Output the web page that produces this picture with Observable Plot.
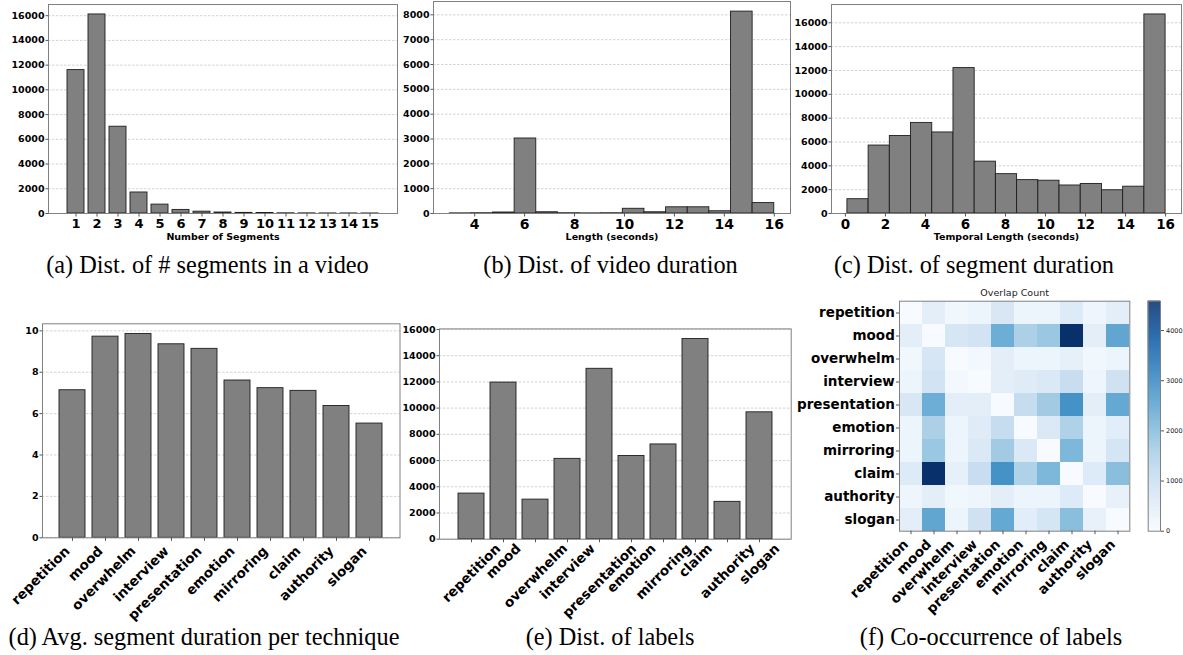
<!DOCTYPE html>
<html><head><meta charset="utf-8">
<script src="https://cdn.jsdelivr.net/npm/d3@7"></script>
<script src="https://cdn.jsdelivr.net/npm/@observablehq/plot@0.6"></script>
<style>
body{margin:0;background:#fff;}
#fig{position:relative;width:1183px;height:655px;overflow:hidden;font-family:"DejaVu Sans";}
.panel{position:absolute;}
.panel svg{overflow:visible;}
.cap{position:absolute;width:440px;text-align:center;font-family:"Liberation Serif";font-size:24.3px;line-height:24.3px;color:#000;white-space:nowrap;}
</style></head><body><div id="fig"></div>
<script>
// ---- data ----
const segCounts = [1,2,3,4,5,6,7,8,9,10,11,12,13,14,15];
const segValues = [11600,16100,7020,1700,720,290,150,80,50,40,15,10,5,5,3];
const segYTicks = [0,2000,4000,6000,8000,10000,12000,14000,16000];

const durEdges = [3,3.867,4.733,5.6,6.467,7.333,8.2,9.067,9.933,10.8,11.667,12.533,13.4,14.267,15.133,16];
const durValues = [5,10,40,3020,50,10,5,10,190,50,250,250,90,8130,420];
const durXTicks = [4,6,8,10,12,14,16];
const durYTicks = [0,1000,2000,3000,4000,5000,6000,7000,8000];

const segDurEdges = [0.1,1.16,2.22,3.28,4.34,5.4,6.46,7.52,8.58,9.64,10.7,11.76,12.82,13.88,14.94,16];
const segDurValues = [1200,5700,6500,7600,6800,12200,4350,3300,2800,2750,2350,2480,1950,2250,16700];
const segDurXTicks = [0,2,4,6,8,10,12,14,16];
const segDurYTicks = [0,2000,4000,6000,8000,10000,12000,14000,16000];

const techniques = ["repetition","mood","overwhelm","interview","presentation","emotion","mirroring","claim","authority","slogan"];
const avgDuration = [7.13,9.72,9.85,9.35,9.13,7.6,7.23,7.1,6.37,5.52];
const avgYTicks = [0,2,4,6,8,10];
const labelCounts = [3480,11950,3020,6130,13000,6350,7230,15270,2850,9680];
const labelYTicks = [0,2000,4000,6000,8000,10000,12000,14000,16000];

const overlap = [
  [0,450,150,250,700,250,250,600,200,450],
  [450,0,750,850,2300,1500,1750,4585,450,2450],
  [150,750,0,100,450,250,250,400,150,250],
  [250,850,100,0,450,550,650,1050,200,900],
  [700,2300,450,450,0,1100,1650,2850,450,2400],
  [250,1500,250,550,1100,0,650,1450,250,500],
  [250,1750,250,650,1650,650,0,2100,250,800],
  [600,4585,400,1050,2850,1450,2100,0,600,1950],
  [200,450,150,200,450,250,250,600,0,350],
  [450,2450,250,900,2400,500,800,1950,350,0]
];
const cbarTicks = [0,1000,2000,3000,4000];

const captions = [
  {t:"(a) Dist. of # segments in a video", cx:207.5, top:252.7},
  {t:"(b) Dist. of video duration", cx:610.5, top:252.7},
  {t:"(c) Dist. of segment duration", cx:974, top:252.7},
  {t:"(d) Avg. segment duration per technique", cx:204, top:624.7},
  {t:"(e) Dist. of labels", cx:610, top:624.7},
  {t:"(f) Co-occurrence of labels", cx:991, top:624.7}
];

// ---- styles ----
const FONT = "DejaVu Sans";
const gridOpts = {stroke:"#b5b5b5", strokeDasharray:"2.5,1.5", strokeWidth:0.6, strokeOpacity:1};
const barOpts = {fill:"#808080", stroke:"#1e1e1e", strokeWidth:0.9};
const frameOpts = {stroke:"#808080", strokeWidth:1};
const yAxisOpts = {tickSize:2.5, tickPadding:1.5, fontSize:9.5, fontWeight:"bold", label:null, tickFormat:d=>String(d), stroke:"#555", fill:"#000"};
const style = {fontFamily:FONT, overflow:"visible", background:"transparent", color:"#000"};

const fig = document.getElementById("fig");
function place(el, left, top) {
  const d = document.createElement("div");
  d.className = "panel"; d.style.left = left+"px"; d.style.top = top+"px";
  d.appendChild(el); fig.appendChild(d);
}
const ctx = document.createElement("canvas").getContext("2d");
function textWidth(s, font) { ctx.font = font; return ctx.measureText(s).width; }

// (a)
place(Plot.plot({
  width:400, height:250, marginLeft:48, marginRight:3, marginTop:4, marginBottom:37, style,
  x:{type:"band", domain:segCounts, paddingInner:0.2, paddingOuter:0.74},
  y:{domain:[0,16905]},
  marks:[
    Plot.gridY(segYTicks, gridOpts),
    Plot.barY(segCounts.map((n,i)=>({n, v:segValues[i]})), {x:"n", y:"v", ...barOpts}),
    Plot.frame(frameOpts),
    Plot.axisY({ticks:segYTicks, ...yAxisOpts}),
    Plot.axisX({tickSize:3.5, tickPadding:2, fontSize:13, fontWeight:"bold", label:null, stroke:"#555", fill:"#000"}),
    Plot.text(["Number of Segments"], {frameAnchor:"bottom", dy:23.7, lineAnchor:"middle", fontSize:9.5, fontWeight:"bold", fill:"#000"})
  ]
}), 0, 0);

// (b)
place(Plot.plot({
  width:400, height:250, marginLeft:40, marginRight:3, marginTop:1, marginBottom:37, style,
  x:{domain:[2.35,16.65]},
  y:{domain:[0,8537]},
  marks:[
    Plot.gridY(durYTicks, gridOpts),
    Plot.rectY(durValues.map((v,i)=>({a:durEdges[i], b:durEdges[i+1], v})), {x1:"a", x2:"b", y:"v", ...barOpts}),
    Plot.frame(frameOpts),
    Plot.axisY({ticks:durYTicks, ...yAxisOpts}),
    Plot.axisX({ticks:durXTicks, tickFormat:d=>String(d), tickSize:3.5, tickPadding:2, fontSize:14, fontWeight:"bold", label:null, stroke:"#555", fill:"#000"}),
    Plot.text(["Length (seconds)"], {frameAnchor:"bottom", dy:23.7, lineAnchor:"middle", fontSize:9.5, fontWeight:"bold", fill:"#000"})
  ]
}), 393, 0);

// (c)
place(Plot.plot({
  width:395, height:250, marginLeft:43, marginRight:2, marginTop:4, marginBottom:37, style,
  x:{domain:[-0.695,16.795]},
  y:{domain:[0,17535]},
  marks:[
    Plot.gridY(segDurYTicks, gridOpts),
    Plot.rectY(segDurValues.map((v,i)=>({a:segDurEdges[i], b:segDurEdges[i+1], v})), {x1:"a", x2:"b", y:"v", ...barOpts}),
    Plot.frame(frameOpts),
    Plot.axisY({ticks:segDurYTicks, ...yAxisOpts}),
    Plot.axisX({ticks:segDurXTicks, tickFormat:d=>String(d), tickSize:3.5, tickPadding:2, fontSize:13.5, fontWeight:"bold", label:null, stroke:"#555", fill:"#000"}),
    Plot.text(["Temporal Length (seconds)"], {frameAnchor:"bottom", dy:23.7, lineAnchor:"middle", fontSize:9.5, fontWeight:"bold", fill:"#000"})
  ]
}), 788, 0);

// rotated label helpers
const LBL_FONT_SIZE = 13.5;
function rightLabels() {
  return Plot.text(techniques, {x:d=>d, frameAnchor:"bottom", rotate:-45, textAnchor:"end", lineAnchor:"middle",
    dx:-5, dy:11, fontSize:LBL_FONT_SIZE, fontWeight:"bold", fill:"#000"});
}
function centerLabels() {
  return techniques.map(t => {
    const w = textWidth(t, `bold ${LBL_FONT_SIZE}px "${FONT}"`);
    return Plot.text([t], {x:d=>d, frameAnchor:"bottom", rotate:-45, textAnchor:"middle", lineAnchor:"middle",
      dy: 0.354*(w+15.8)+1.5, fontSize:LBL_FONT_SIZE, fontWeight:"bold", fill:"#000"});
  });
}

// (d)
place(Plot.plot({
  width:402, height:310, marginLeft:42, marginRight:2.5, marginTop:23.3, marginBottom:72.7, style,
  x:{type:"band", domain:techniques, paddingInner:0.2, paddingOuter:0.49},
  y:{domain:[0,10.34]},
  marks:[
    Plot.gridY(avgYTicks, gridOpts),
    Plot.barY(techniques.map((t,i)=>({t, v:avgDuration[i]})), {x:"t", y:"v", ...barOpts}),
    Plot.frame(frameOpts),
    Plot.axisY({ticks:avgYTicks, ...yAxisOpts}),
    Plot.axisX({tickSize:3.5, tickFormat:()=>"", label:null, stroke:"#555"}),
    rightLabels()
  ]
}), 0, 300);

// (e)
place(Plot.plot({
  width:395, height:310, marginLeft:41, marginRight:2.3, marginTop:28.4, marginBottom:71.3, style,
  x:{type:"band", domain:techniques, paddingInner:0.2, paddingOuter:0.49},
  y:{domain:[0,16044]},
  marks:[
    Plot.gridY(labelYTicks, gridOpts),
    Plot.barY(techniques.map((t,i)=>({t, v:labelCounts[i]})), {x:"t", y:"v", ...barOpts}),
    Plot.frame(frameOpts),
    Plot.axisY({ticks:labelYTicks, ...yAxisOpts}),
    Plot.axisX({tickSize:3.5, tickFormat:()=>"", label:null, stroke:"#555"}),
    ...centerLabels()
  ]
}), 398, 300);

// (f) heatmap
const cells = techniques.flatMap((r,i)=>techniques.map((c,j)=>({row:r, col:c, v:overlap[i][j]})));
const colorScale = {type:"linear", scheme:"blues", domain:[0,4585]};
place(Plot.plot({
  width:340, height:340, marginLeft:99, marginRight:10.7, marginTop:20.7, marginBottom:89.3, style,
  x:{type:"band", domain:techniques, padding:0},
  y:{type:"band", domain:techniques, padding:0},
  color:colorScale,
  marks:[
    Plot.cell(cells, {x:"col", y:"row", fill:"v", inset:0}),
    Plot.frame(frameOpts),
    Plot.axisY({tickSize:3, tickPadding:1.7, fontSize:LBL_FONT_SIZE, fontWeight:"bold", label:null, stroke:"#555", fill:"#000"}),
    Plot.axisX({tickSize:3.5, tickFormat:()=>"", label:null, stroke:"#555"}),
    rightLabels(),
    Plot.text(["Overlap Count"], {frameAnchor:"top", dy:-5, lineAnchor:"bottom", fontSize:9.5, fill:"#222"})
  ]
}), 800, 280);

// colorbar
const cbarSteps = d3.range(0, 4585, 5);
place(Plot.plot({
  width:43, height:340, marginLeft:7.7, marginRight:23, marginTop:20.7, marginBottom:89.3, style,
  x:{domain:[0,1], axis:null},
  y:{domain:[0,4585]},
  color:colorScale,
  marks:[
    Plot.rect(cbarSteps, {x1:()=>0, x2:()=>1, y1:d=>d, y2:d=>Math.min(d+8,4585), fill:d=>d}),
    Plot.frame(frameOpts),
    Plot.axisY({anchor:"right", ticks:cbarTicks, tickFormat:d=>String(d), tickSize:3, tickPadding:2.5, fontSize:6.5, label:null, stroke:"#555", fill:"#222"})
  ]
}), 1140, 280);

// captions
for (const c of captions) {
  const d = document.createElement("div");
  d.className = "cap"; d.textContent = c.t;
  d.style.left = (c.cx-220)+"px"; d.style.top = c.top+"px";
  fig.appendChild(d);
}
</script></body></html>
